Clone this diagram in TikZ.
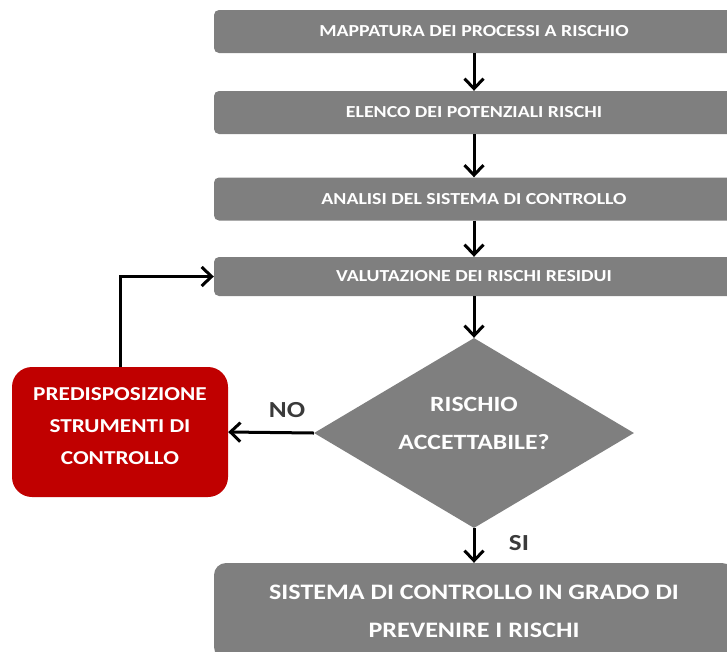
\documentclass[tikz,border=0pt]{standalone}
\usepackage{fontspec}
\setmainfont{Carlito}[FakeStretch=1.18]
\usetikzlibrary{arrows.meta,shapes.geometric}
\definecolor{boxgray}{HTML}{7F7F7F}
\definecolor{boxred}{HTML}{C00000}
\definecolor{labelgray}{HTML}{3A3A3A}
\begin{document}
\begin{tikzpicture}[x=1pt,y=-1pt,
  stepbox/.style={fill=boxgray, rounded corners=5pt, text=white, inner sep=0pt,
    minimum width=520pt, minimum height=43pt,
    font=\bfseries\fontsize{16.8}{18}\selectfont},
  endbox/.style={fill=boxgray, rounded corners=12pt, text=white, inner sep=0pt,
    minimum width=520pt, minimum height=96pt, align=center,
    font=\bfseries\fontsize{22.1}{38}\selectfont},
  decision/.style={diamond, aspect=1.68, fill=boxgray, inner sep=0pt,
    minimum width=320pt, minimum height=190pt},
  decisiontext/.style={text=white, align=center, inner sep=0pt,
    font=\bfseries\fontsize{21.8}{38}\selectfont},
  actionbox/.style={fill=boxred, rounded corners=20pt, inner sep=0pt,
    minimum width=216pt, minimum height=130pt},
  actiontext/.style={text=white, align=center, inner sep=0pt,
    font=\bfseries\fontsize{19.7}{32}\selectfont},
  answer/.style={text=labelgray, font=\bfseries\fontsize{23}{24}\selectfont},
  flow/.style={line width=3pt, -{Straight Barb[length=10pt,width=19pt,line width=3pt]}}
]
\useasboundingbox (0,0) rectangle (727,651);
\node[stepbox] (b1) at (474,31.5) {MAPPATURA DEI PROCESSI A RISCHIO};
\node[stepbox] (b2) at (474,112.5) {ELENCO DEI POTENZIALI RISCHI};
\node[stepbox] (b3) at (474,199) {ANALISI DEL SISTEMA DI CONTROLLO};
\node[stepbox, minimum height=39pt] (b4) at (474,276.5) {VALUTAZIONE DEI RISCHI RESIDUI};
\node[decision] (dia) at (474,433) {};
\node[decisiontext] (diatext) at (474,423) {RISCHIO\\ACCETTABILE?};
\node[actionbox] (red) at (120,432) {};
\node[actiontext] (redtext) at (120,426) {PREDISPOSIZIONE\\STRUMENTI DI\\CONTROLLO};
\node[endbox] (b5) at (474,611) {SISTEMA DI CONTROLLO IN GRADO DI\\PREVENIRE I RISCHI};
\node[answer] (no) at (287,410) {NO};
\node[answer] (si) at (519,543) {SI};
\draw[flow] (b1.south) -- (b2.north);
\draw[flow] (b2.south) -- (b3.north);
\draw[flow] (b3.south) -- (b4.north);
\draw[flow] (b4.south) -- (dia.north);
\draw[flow] (dia.west) -- (red.east);
\draw[flow] (red.north) |- (b4.west);
\draw[flow] (dia.south) -- (b5.north);
\end{tikzpicture}
\end{document}
